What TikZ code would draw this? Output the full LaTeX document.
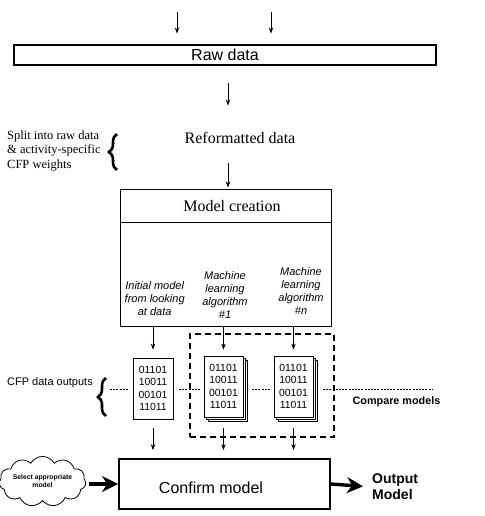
\documentclass[tikz,border=0pt]{standalone}
\usepackage{fontspec}
\setmainfont{Liberation Serif}
\setsansfont{Liberation Sans}
\usetikzlibrary{arrows.meta,decorations.pathreplacing,shapes.symbols,calc}
\begin{document}
\begin{tikzpicture}[x=1pt,y=-1pt,
  thinarrow/.style={-{Stealth[length=6pt,width=4.5pt]},line width=0.8pt},
  bigarrow/.style={-{Stealth[length=16pt,width=16pt,inset=5pt]},line width=3.4pt},
  box/.style={draw,line width=1pt,inner sep=0},
  sheet/.style={draw,line width=0.8pt,fill=white,minimum width=39pt,minimum height=61pt,inner sep=0},
  doc/.style={sheet,font=\sffamily\fontsize{10.4}{12.6}\selectfont,align=center},
  dotline/.style={line width=0.6pt,dash pattern=on 2pt off 1.2pt},
  curly/.style={decorate,decoration={brace,amplitude=8pt},line width=2.6pt},
  ital/.style={font=\sffamily\itshape\fontsize{11}{13}\selectfont,align=center,inner sep=0,anchor=north}
]
\useasboundingbox[fill=white] (0,0) rectangle (484,516);

% inputs and raw data
\coordinate (in1) at (177,12);
\coordinate (in2) at (271,12);
\node[box,line width=1.1pt,minimum width=422pt,minimum height=20pt,font=\sffamily\fontsize{16}{19}\selectfont] (raw) at (225,55) {Raw data};
\draw[thinarrow,shorten >=11pt] (in1) -- (in1 |- raw.north);
\draw[thinarrow,shorten >=11pt] (in2) -- (in2 |- raw.north);

% reformatted
\node[font=\fontsize{16}{19}\selectfont,inner sep=0] (ref) at (240,138) {Reformatted data};
\draw[thinarrow] ($(raw.south)+(3,17)$) -- ($(raw.south)+(3,40)$);

\node[font=\fontsize{12.5}{14.5}\selectfont,align=left,anchor=west,inner sep=0] (split) at (7,151) {Split into raw data\\\& activity-specific\\CFP weights};
\coordinate (b1a) at (117,170);
\coordinate (b1b) at (117,134);
\draw[curly] (b1a) -- (b1b);

% model creation
\node[box,minimum width=211pt,minimum height=137pt] (mc) at (226,257.5) {};
\coordinate (hdr) at (0,222);
\draw[line width=1pt] (mc.west |- hdr) -- (mc.east |- hdr);
\node[font=\fontsize{16}{19}\selectfont] (mct) at (232,206) {Model creation};
\draw[thinarrow] ($(mc.north)+(2,-26)$) -- ($(mc.north)+(2,-1)$);

\node[ital] (l1) at (154.7,281.5) {Initial model\\from looking\\at data};
\node[ital] (l2) at (225,271) {Machine\\learning\\algorithm\\\#1};
\node[ital] (l3) at (301,267) {Machine\\learning\\algorithm\\\#n};

% compare box
\node[draw,line width=1.8pt,dash pattern=on 6pt off 4pt,minimum width=144pt,minimum height=103pt,inner sep=0] (cmp) at (262,385.5) {};

% dotted line
\draw[dotline] (110,389) -- (128,389);
\draw[dotline] (179,389) -- (201,389);
\draw[dotline] (252,389) -- (270,389);
\draw[dotline] (323,389) -- (432,389);

% documents
\node[doc,minimum width=40pt] (d1) at (153,388.5) {01101\\10011\\00101\\11011};
\node[sheet] (d2c) at (228,391) {};
\node[sheet] (d2b) at (225.7,388.7) {};
\node[doc] (d2) at (223.5,386.5) {01101\\10011\\00101\\11011};
\node[sheet] (d3c) at (298,391) {};
\node[sheet] (d3b) at (295.7,388.7) {};
\node[doc] (d3) at (293.5,386.5) {01101\\10011\\00101\\11011};

\foreach \d/\g in {d1/8,d2/6,d3/6}{
  \draw[thinarrow,shorten >=\g pt] (mc.south -| \d.north) -- (\d.north);
}

\node[font=\sffamily\fontsize{11}{13}\selectfont,inner sep=0] (cfp) at (50,382.5) {CFP data outputs};
\coordinate (b2a) at (106,416);
\coordinate (b2b) at (106,378);
\draw[curly] (b2a) -- (b2b);
\node[font=\sffamily\bfseries\fontsize{10.8}{13}\selectfont,inner sep=0] (cmpt) at (396.5,401.5) {Compare models};

% confirm
\node[box,line width=1.8pt,minimum width=211pt,minimum height=50pt] (cm) at (224.5,484) {};
\node[font=\sffamily\fontsize{16}{19}\selectfont,inner sep=0] (cmtxt) at (211,488) {Confirm model};
\draw[thinarrow,shorten <=9pt,shorten >=8pt] (d1.south) -- (d1.south |- cm.north);
\draw[thinarrow,shorten <=11pt,shorten >=8pt] (d2.south) -- (d2.south |- cm.north);
\draw[thinarrow,shorten <=11pt,shorten >=8pt] (d3.south) -- (d3.south |- cm.north);

\node[cloud,draw,line width=0.8pt,cloud puffs=11,cloud puff arc=120,aspect=2.2,minimum width=81pt,minimum height=37pt,inner sep=0,font=\sffamily\bfseries\fontsize{6.8}{8}\selectfont,align=center] (cloud) at (42.5,481.5) {Select appropriate\\model};
\draw[bigarrow,shorten <=3pt] (cloud.east |- cm.west) -- (cm.west);

\node[font=\sffamily\bfseries\fontsize{14}{16}\selectfont,align=left,anchor=west,inner sep=0] (out) at (372,487) {Output\\Model};
\draw[bigarrow,shorten >=9pt] (cm.east) -- (out.west);
\end{tikzpicture}
\end{document}
